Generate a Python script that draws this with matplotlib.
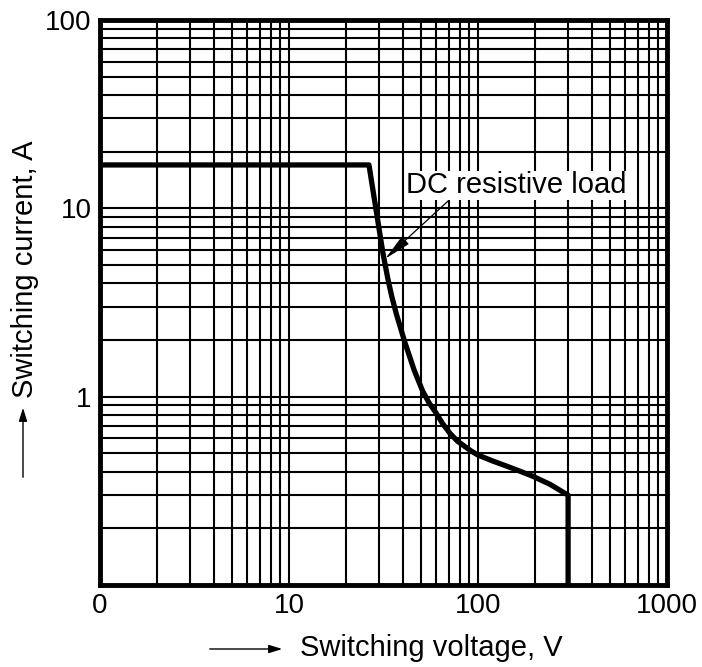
import matplotlib
matplotlib.use('Agg')
import matplotlib.pyplot as plt

plt.rcParams['font.family'] = ['Liberation Sans', 'DejaVu Sans']

# DC resistive load limit curve
voltage = [1, 26.5, 29, 31.4, 33.4, 35, 37, 41, 46, 51, 55, 60, 65, 71, 78, 85, 92, 100,
           120, 140, 165, 195, 240, 300, 300]
current = [17, 17, 9.6, 5.8, 4.2, 3.4, 2.75, 1.95, 1.38, 1.07, 0.93, 0.82, 0.72, 0.64,
           0.58, 0.545, 0.515, 0.49, 0.455, 0.43, 0.404, 0.378, 0.343, 0.30, 0.1]

x_ticks = [1, 10, 100, 1000]
x_tick_labels = ['0', '10', '100', '1000']
y_ticks = [1, 10, 100]
y_tick_labels = ['1', '10', '100']

fig = plt.figure(figsize=(7.02, 6.67), dpi=100)
ax = fig.add_axes([0.1425, 0.1229, 0.8075, 0.8471])

ax.set_xscale('log')
ax.set_yscale('log')
ax.set_xlim(1, 1000)
ax.set_ylim(0.1, 100)

# dense log grid, every minor step
ax.grid(True, which='both', color='black', lw=1.5)
ax.set_axisbelow(True)

ax.plot(voltage, current, color='black', lw=3.8, solid_joinstyle='round', zorder=3)

ax.set_xticks(x_ticks)
ax.set_xticklabels(x_tick_labels)
ax.set_yticks(y_ticks)
ax.set_yticklabels(y_tick_labels)
ax.tick_params(which='both', length=0, labelsize=20, pad=6)

for s in ax.spines.values():
    s.set_linewidth(3.5)
    s.set_zorder(4)

ax.annotate('DC resistive load', xy=(32.3, 5.4), xytext=(0.735, 0.722),
            textcoords='figure fraction', ha='center', va='center', fontsize=21,
            bbox=dict(boxstyle='square,pad=0.02', fc='white', ec='none'),
            arrowprops=dict(arrowstyle='-|>,head_length=0.8,head_width=0.15', color='black',
                            lw=0.9, shrinkA=0, shrinkB=0, relpos=(0.2, 0.0)),
            zorder=5)

# axis titles with leading arrows, as in the datasheet
fig.text(0.427, 0.028, 'Switching voltage, V', fontsize=21, ha='left', va='center')
fig.add_artist(matplotlib.patches.FancyArrowPatch(
    (207 / 702, 1 - 649 / 667), (285 / 702, 1 - 649 / 667), transform=fig.transFigure,
    arrowstyle='-|>,head_length=8,head_width=2.5', color='black', lw=1.0))

fig.text(0.036, 1 - 269 / 667, 'Switching current, A', fontsize=21, rotation=90,
         ha='center', va='center')
fig.add_artist(matplotlib.patches.FancyArrowPatch(
    (23 / 702, 1 - 480 / 667), (23 / 702, 1 - 405 / 667), transform=fig.transFigure,
    arrowstyle='-|>,head_length=8,head_width=2.5', color='black', lw=1.0))

fig.savefig('out.png', dpi=100)
